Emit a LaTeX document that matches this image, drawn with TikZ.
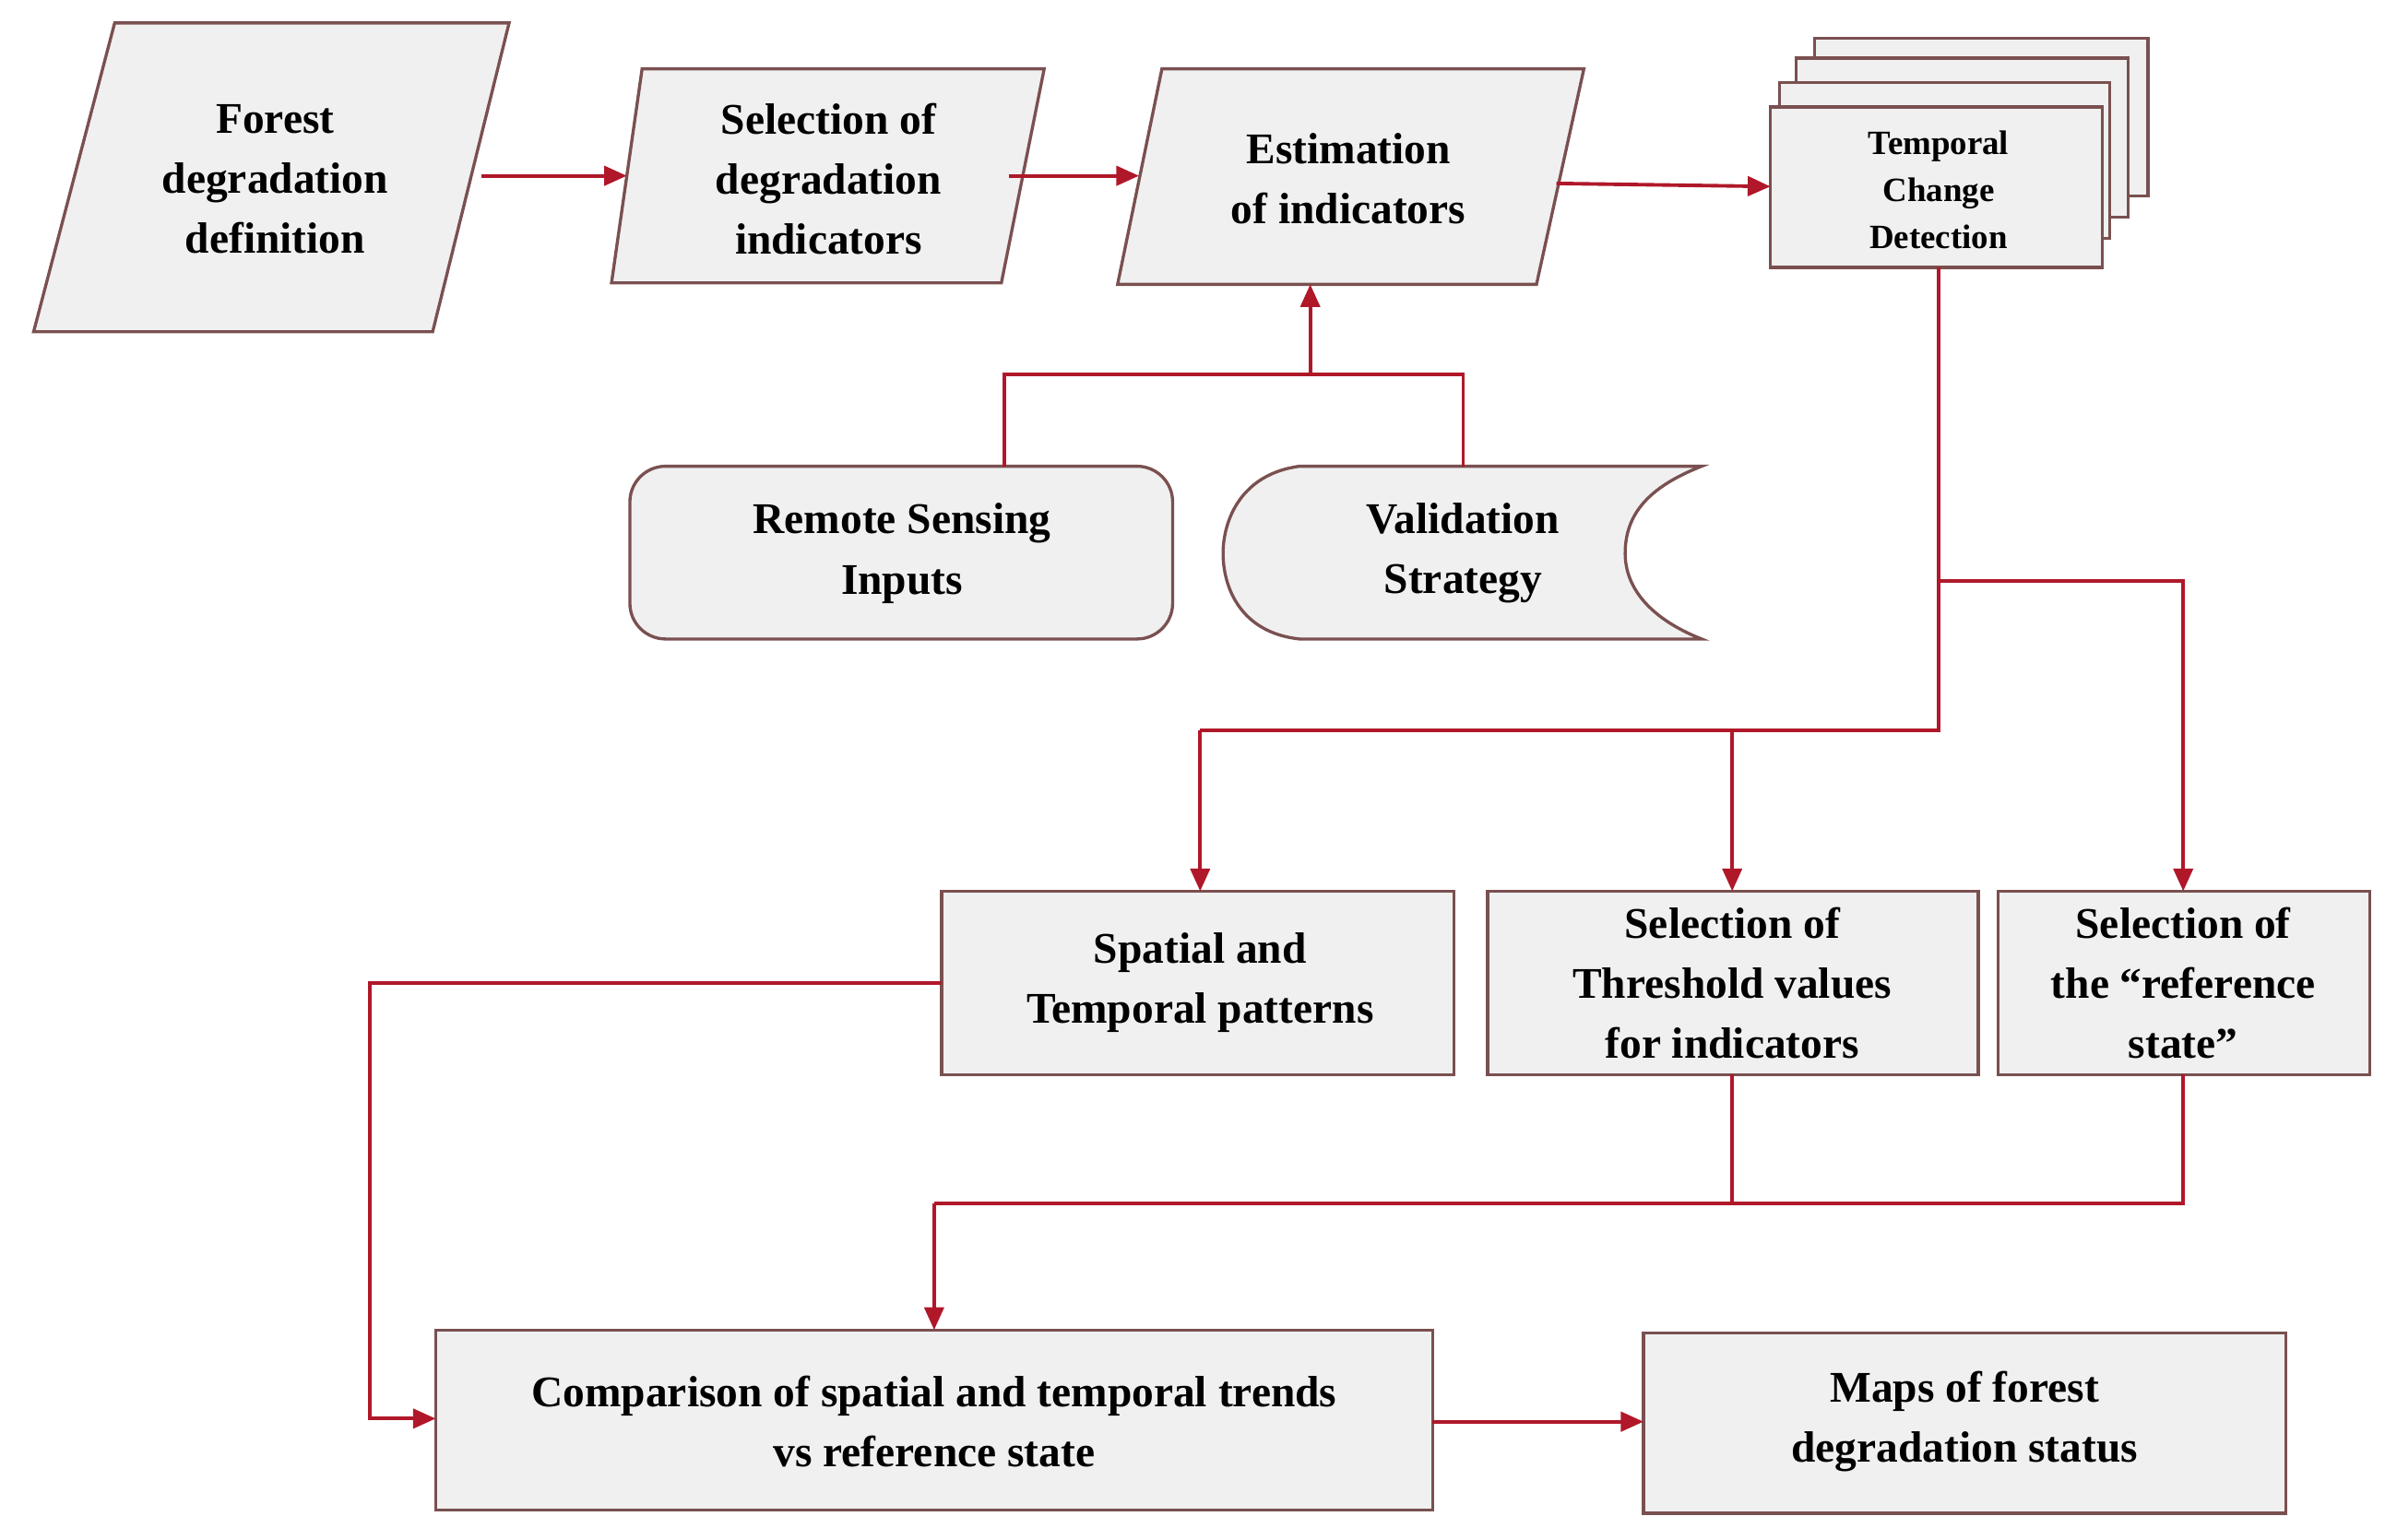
\documentclass[tikz,border=0pt]{standalone}
\usepackage{fontspec}
\setmainfont{Liberation Serif}
\usetikzlibrary{arrows.meta}
\definecolor{bfill}{HTML}{F0F0F0}
\definecolor{bdraw}{HTML}{7A5050}
\definecolor{ared}{HTML}{B0182A}
\begin{document}
\begin{tikzpicture}[x=0.03316cm,y=-0.03316cm,
  shp/.style={fill=bfill,draw=bdraw,line width=1.9pt},
  txt/.style={font=\fontsize{27}{37}\selectfont\bfseries,align=center,inner sep=0pt},
  con/.style={draw=ared,line width=2.2pt},
  arr/.style={con,-{Triangle[length=14pt,width=12pt]}}]
\useasboundingbox (0,0) rectangle (1560,1007);
% parallelograms
\draw[shp] (75,15) -- (333,15) -- (283,217) -- (22,217) -- cycle;
\node[txt] (fd) at (180,117) {Forest\\degradation\\definition};
\draw[shp] (420,45) -- (683,45) -- (655,185) -- (400,185) -- cycle;
\node[txt] (sd) at (542,117) {Selection of\\degradation\\indicators};
\draw[shp] (760,45) -- (1036,45) -- (1005,186) -- (731,186) -- cycle;
\node[txt] (ei) at (882,117) {Estimation\\of indicators};
% stacked docs
\draw[shp] (1187,25) rectangle (1405,128);
\draw[shp] (1175,38) rectangle (1392,142);
\draw[shp] (1164,54) rectangle (1380,156);
\draw[shp] (1158,70) rectangle (1375,175);
\node[txt,font=\fontsize{21}{29}\selectfont\bfseries] (tc) at (1268,124) {Temporal\\Change\\Detection};
% inputs
\draw[shp,rounded corners=22pt] (412,305) rectangle (767,418);
\node[txt] (rs) at (590,362) {Remote Sensing\\Inputs};
\draw[shp] (850,305) .. controls (812,310) and (800,340) .. (800,362) .. controls (800,385) and (812,414) .. (850,418) -- (1113,418) .. controls (1080,405) and (1063,385) .. (1063,362) .. controls (1063,335) and (1080,318) .. (1113,305) -- cycle;
\node[txt] (vs) at (957,362) {Validation\\Strategy};
% lower boxes
\draw[shp] (616,583) rectangle (951,703);
\node[txt] (sp) at (785,643) {Spatial and\\Temporal patterns};
\draw[shp] (973,583) rectangle (1294,703);
\node[txt] (th) at (1133,643) {Selection of\\Threshold values\\for indicators};
\draw[shp] (1307,583) rectangle (1550,703);
\node[txt] (rf) at (1428,643) {Selection of\\the “reference\\state”};
\draw[shp] (285,870) rectangle (937,988);
\node[txt] (cp) at (611,930) {Comparison of spatial and temporal trends\\vs reference state};
\draw[shp] (1075,872) rectangle (1495,990);
\node[txt] (mp) at (1285,930) {Maps of forest\\degradation status};
% connectors
\draw[arr] (315,115) -- (410,115);
\draw[arr] (660,115) -- (745,115);
\draw[arr] (1018,120) -- (1158,122);
\draw[con] (657,305) -- (657,245) -- (957,245) -- (957,305);
\draw[arr] (857,245) -- (857,186);
\draw[con] (1268,175) -- (1268,478) -- (785,478);
\draw[arr] (785,478) -- (785,583);
\draw[arr] (1133,478) -- (1133,583);
\draw[arr] (1268,380) -- (1428,380) -- (1428,583);
\draw[arr] (616,643) -- (242,643) -- (242,928) -- (285,928);
\draw[con] (1133,703) -- (1133,787);
\draw[con] (1428,703) -- (1428,787) -- (611,787);
\draw[arr] (611,787) -- (611,870);
\draw[arr] (937,930) -- (1075,930);
\end{tikzpicture}
\end{document}
